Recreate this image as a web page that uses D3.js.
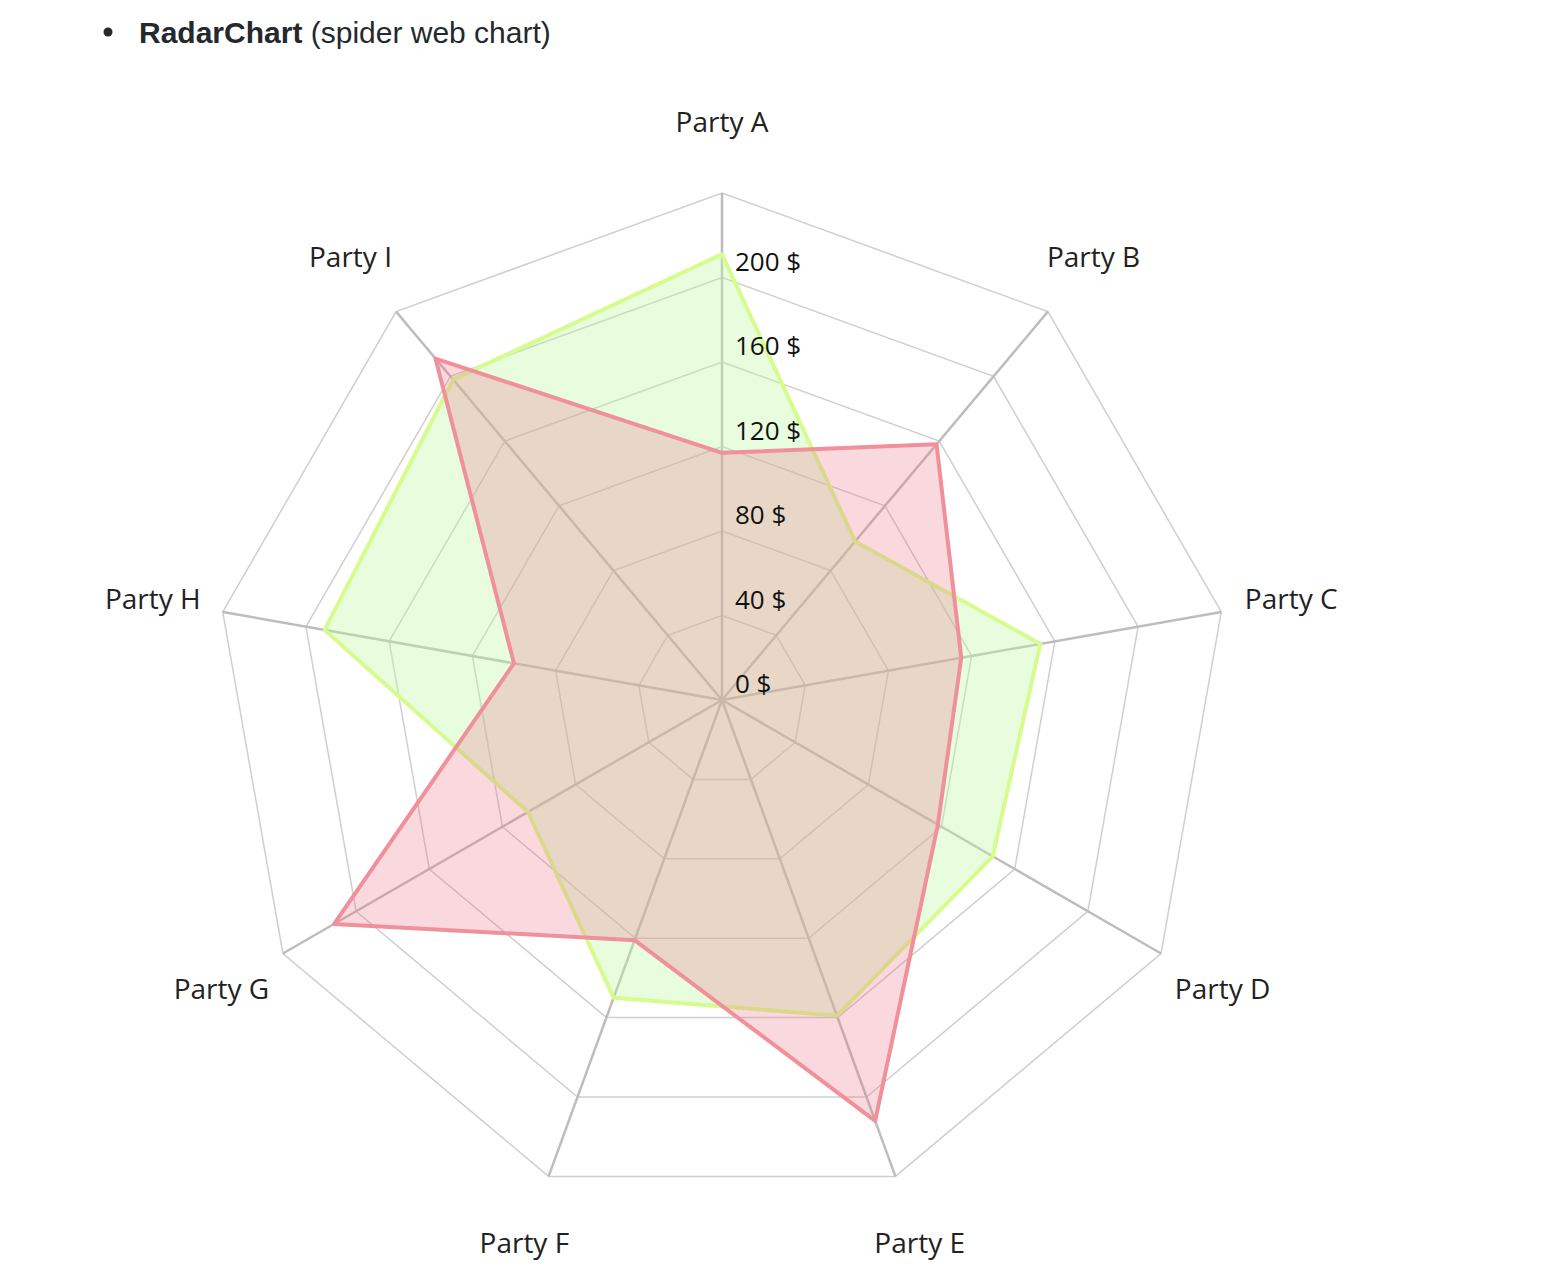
<!DOCTYPE html>
<html>
<head>
<meta charset="utf-8">
<script src="https://cdn.jsdelivr.net/npm/d3@7"></script>
<style>
  body { margin: 0; background: #fff; }
</style>
</head>
<body>
<svg id="drawing_region"></svg>
<script>
const categories = ["Party A", "Party B", "Party C", "Party D", "Party E", "Party F", "Party G", "Party H", "Party I"];
const greenValues = [211, 98, 153, 148, 159, 150, 106, 191, 198];
const redValues = [117, 158, 115, 118, 212, 121, 212, 100, 211];
const tickValues = [0, 40, 80, 120, 160, 200];
const ringValues = [40, 80, 120, 160, 200, 240];

const width = 1554, height = 1282;
const cx = 722, cy = 700, radius = 507;

const svg = d3.select('#drawing_region')
    .attr('width', width)
    .attr('height', height);

// heading
const head = svg.append('g');
head.append('circle').attr('cx', 108).attr('cy', 32).attr('r', 4.5).attr('fill', '#24292e');
head.append('text')
    .attr('x', 139).attr('y', 43)
    .attr('font-family', 'Liberation Sans, Arial, sans-serif')
    .attr('font-size', 30)
    .attr('fill', '#24292e')
    .call(t => {
        t.append('tspan').attr('font-weight', 'bold').text('RadarChart');
        t.append('tspan').text(' (spider web chart)');
    });

const g = svg.append('g').attr('transform', `translate(${cx},${cy})`);

const r = d3.scaleLinear().domain([0, 240]).range([0, radius]);
const angle = i => i * 2 * Math.PI / categories.length;
const pt = (i, v) => [r(v) * Math.sin(angle(i)), -r(v) * Math.cos(angle(i))];

// rings
g.selectAll('.ring')
    .data(ringValues)
    .enter()
    .append('polygon')
    .attr('points', v => categories.map((c, i) => pt(i, v).join(',')).join(' '))
    .attr('fill', 'none')
    .attr('stroke', '#cfcfcf')
    .attr('stroke-width', 1.5);

// spokes
g.selectAll('.spoke')
    .data(categories)
    .enter()
    .append('line')
    .attr('x1', 0).attr('y1', 0)
    .attr('x2', (d, i) => pt(i, 240)[0])
    .attr('y2', (d, i) => pt(i, 240)[1])
    .attr('stroke', '#bdbdbd')
    .attr('stroke-width', 2.5);

// series
const series = [
    { values: greenValues, stroke: '#d6fc8e', fill: 'rgba(190,245,160,0.35)' },
    { values: redValues, stroke: '#f0909b', fill: 'rgba(235,120,135,0.28)' }
];
g.selectAll('.series')
    .data(series)
    .enter()
    .append('polygon')
    .attr('points', s => s.values.map((v, i) => pt(i, v).join(',')).join(' '))
    .attr('fill', s => s.fill)
    .attr('stroke', s => s.stroke)
    .attr('stroke-width', 4)
    .attr('stroke-linejoin', 'round');

// tick labels
g.selectAll('.tick')
    .data(tickValues)
    .enter()
    .append('text')
    .attr('x', 13)
    .attr('y', v => -r(v) - 16)
    .attr('dy', '0.35em')
    .attr('font-family', 'Open Sans, sans-serif')
    .attr('font-size', 26)
    .attr('fill', '#111')
    .text(v => `${v} $`);

// axis labels
g.selectAll('.label')
    .data(categories)
    .enter()
    .append('text')
    .attr('x', (d, i) => 578 * Math.sin(angle(i)))
    .attr('y', (d, i) => -578 * Math.cos(angle(i)))
    .attr('dy', '0.35em')
    .attr('text-anchor', 'middle')
    .attr('font-family', 'Open Sans, sans-serif')
    .attr('font-size', 28)
    .attr('fill', '#222')
    .text(d => d);
</script>
</body>
</html>
